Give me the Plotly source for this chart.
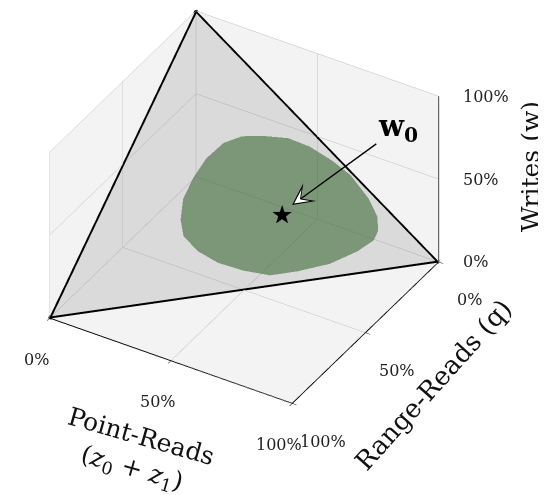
import plotly.graph_objects as go

# ---- data (fractions of the workload) ----
# simplex corners: (point-reads, range-reads, writes)
corner_point = [1.0, 0.0, 0.0]
corner_range = [0.0, 1.0, 0.0]
corner_write = [0.0, 0.0, 1.0]

# boundary of the shaded (green) workload region on the simplex
region_point = [0.35, 0.42, 0.49, 0.57, 0.64, 0.72, 0.77, 0.79, 0.79, 0.76, 0.70, 0.62,
                0.55, 0.47, 0.39, 0.32, 0.26, 0.23, 0.21, 0.21, 0.22, 0.25, 0.29]
region_range = [0.12, 0.07, 0.04, 0.02, 0.01, 0.02, 0.04, 0.07, 0.10, 0.16, 0.25, 0.34,
                0.41, 0.46, 0.50, 0.52, 0.52, 0.49, 0.44, 0.37, 0.30, 0.23, 0.17]
region_write = [0.53, 0.51, 0.47, 0.41, 0.35, 0.26, 0.19, 0.14, 0.11, 0.08, 0.05, 0.04,
                0.04, 0.07, 0.11, 0.16, 0.22, 0.28, 0.35, 0.42, 0.48, 0.53, 0.54]

# expected workload w0
w0_point, w0_range, w0_write = 0.50, 0.25, 0.25

axis_range = [0, 1]
tick_vals = [0, 0.5, 1]
tick_text = ["0%", "50%", "100%"]

FONT = "DejaVu Serif"
EPS = 0.006  # tiny lift toward viewer to avoid coplanar z-fighting

fig = go.Figure()

flat = dict(ambient=1, diffuse=0, specular=0, roughness=1, fresnel=0)

fig.add_trace(go.Mesh3d(
    x=corner_range, y=corner_point, z=corner_write,
    i=[0], j=[1], k=[2],
    color="rgb(128,128,128)", opacity=0.22, flatshading=True,
    lighting=flat, hoverinfo="skip", showscale=False))

n = len(region_point)
rx = [w0_range] + region_range
ry = [w0_point] + region_point
rz = [w0_write] + region_write
fig.add_trace(go.Mesh3d(
    x=[v + EPS for v in rx], y=[v + EPS for v in ry], z=[v + EPS for v in rz],
    i=[0] * n, j=[m + 1 for m in range(n)], k=[(m + 1) % n + 1 for m in range(n)],
    color="rgb(60,107,53)", opacity=0.6, flatshading=True,
    lighting=flat, hoverinfo="skip", showscale=False))

fig.add_trace(go.Scatter3d(
    x=corner_range + [corner_range[0]], y=corner_point + [corner_point[0]],
    z=corner_write + [corner_write[0]],
    mode="lines", line=dict(color="black", width=6), hoverinfo="skip"))

# writes axis line on the right-hand vertical edge of the box
fig.add_trace(go.Scatter3d(
    x=[axis_range[0], axis_range[0]], y=[axis_range[1], axis_range[1]], z=axis_range,
    mode="lines", line=dict(color="black", width=2), hoverinfo="skip"))

fig.add_trace(go.Scatter3d(
    x=[w0_range + 2 * EPS], y=[w0_point + 2 * EPS], z=[w0_write + 2 * EPS],
    mode="text", text=["★"], textposition="middle center",
    textfont=dict(size=26, color="black", family="DejaVu Sans"),
    hoverinfo="skip"))

axis_common = dict(
    range=axis_range, autorange=False, tickvals=tick_vals, ticktext=tick_text,
    showgrid=True, gridcolor="#bdbdbd", gridwidth=1,
    showbackground=True, backgroundcolor="#f3f3f3",
    showline=True, linecolor="black", linewidth=2,
    ticks="outside", ticklen=5, tickcolor="black",
    zeroline=False, showspikes=False, showticklabels=False,
    title=dict(text=""),
)
zaxis = dict(axis_common, showline=False, ticks="")

tick_font = dict(family=FONT, size=16, color="#222")
scene_ann = []
for t, lab in zip(tick_vals, tick_text):
    scene_ann.append(dict(x=0, y=1, z=t, text=lab, showarrow=False, font=tick_font,
                          xanchor="left", yanchor="middle", xshift=22))
    scene_ann.append(dict(x=t, y=1, z=0, text=lab, showarrow=False, font=tick_font,
                          xanchor="center", yanchor="middle", xshift=31, yshift=-38))
    scene_ann.append(dict(x=1, y=t, z=0, text=lab, showarrow=False, font=tick_font,
                          xanchor="center", yanchor="middle", xshift=-13, yshift=-41))

scene_ann.append(dict(
    x=w0_range, y=w0_point, z=w0_write,
    text="<b>w</b><sub><b>0</b></sub>", font=dict(family=FONT, size=29, color="black"),
    showarrow=True, arrowhead=3, arrowsize=2.8, arrowwidth=1.3, arrowcolor="black",
    standoff=14, ax=117, ay=-85))
scene_ann.append(dict(
    x=w0_range, y=w0_point, z=w0_write, text=" ", font=dict(size=2),
    showarrow=True, arrowhead=3, arrowsize=2.4, arrowwidth=1.0, arrowcolor="white",
    standoff=16.5, ax=19, ay=-13.8))

zoom = 1.145
d = 1.747
dirv = (0.696, 0.420, 0.583)
cen = (-0.0165, 0.0273, -0.2405)
fig.update_layout(
    width=546, height=495,
    margin=dict(l=0, r=0, t=0, b=0),
    paper_bgcolor="white",
    showlegend=False,
    font=dict(family=FONT),
    scene=dict(
        domain=dict(x=[0, 0.894], y=[0, 1]),
        xaxis=axis_common, yaxis=axis_common, zaxis=zaxis,
        aspectmode="manual", aspectratio=dict(x=zoom, y=zoom, z=0.72 * zoom),
        camera=dict(
            up=dict(x=0, y=0, z=1),
            center=dict(x=cen[0], y=cen[1], z=cen[2]),
            eye=dict(x=cen[0] + d * dirv[0], y=cen[1] + d * dirv[1], z=cen[2] + d * dirv[2]),
            projection=dict(type="orthographic"),
        ),
        annotations=scene_ann,
    ),
    annotations=[
        dict(xref="paper", yref="paper", x=128 / 546, y=1 - 445 / 495,
             text="Point-Reads<br>(<i>z</i><sub>0</sub> + <i>z</i><sub>1</sub>)",
             textangle=16, showarrow=False, font=dict(family=FONT, size=25, color="#111"),
             xanchor="center", yanchor="middle"),
        dict(xref="paper", yref="paper", x=425 / 546, y=1 - 377 / 495,
             text="Range-Reads (q)", textangle=-48, showarrow=False,
             font=dict(family=FONT, size=26, color="#111"),
             xanchor="center", yanchor="middle"),
        dict(xref="paper", yref="paper", x=522 / 546, y=1 - 159 / 495,
             text="Writes (w)", textangle=-90, showarrow=False,
             font=dict(family=FONT, size=25, color="#111"),
             xanchor="center", yanchor="middle"),
    ],
)

fig.write_html("out.html")
